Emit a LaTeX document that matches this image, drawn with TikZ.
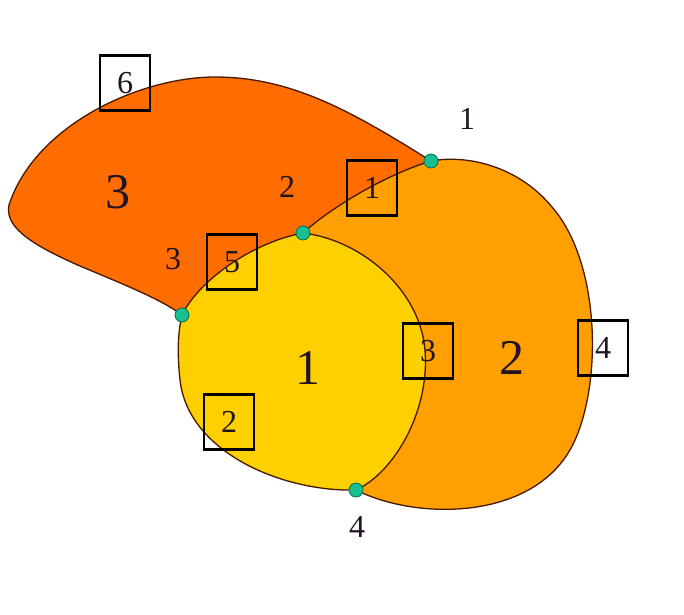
\documentclass[tikz,border=0pt]{standalone}
\usepackage{fontspec}
\setmainfont{Liberation Serif}
\begin{document}
\begin{tikzpicture}[x=1pt,y=-1pt,
  edge/.style={draw=edgecol,line width=1.3pt},
  dot/.style={circle,fill=dotfill,draw=dotdraw,line width=0.8pt,minimum size=14pt,inner sep=0pt},
  boxlab/.style={draw=black,line width=2.2pt,minimum width=50pt,minimum height=55pt,inner sep=0pt,text=labcol,font=\fontsize{32}{36}\selectfont},
  biglab/.style={text=labcol,font=\fontsize{50}{56}\selectfont},
  smalllab/.style={text=labcol,font=\fontsize{32}{36}\selectfont}]
\definecolor{redface}{RGB}{255,108,0}
\definecolor{orangeface}{RGB}{255,160,0}
\definecolor{yellowface}{RGB}{255,208,0}
\definecolor{edgecol}{RGB}{70,25,0}
\definecolor{dotfill}{RGB}{25,190,145}
\definecolor{dotdraw}{RGB}{0,110,85}
\definecolor{labcol}{RGB}{35,20,35}
\useasboundingbox (0,0) rectangle (684,614);
\fill[white] (0,0) rectangle (684,614);
% vertices and helper points
\coordinate (a) at (431,161);
\coordinate (b) at (303,233);
\coordinate (c) at (182,315);
\coordinate (d) at (356,490);
\coordinate (bd) at (425,350);
\coordinate (dc) at (180,380);
\coordinate (da1) at (575,440);
\coordinate (da2) at (552,207);
\coordinate (ac1) at (215,77);
\coordinate (ac2) at (9,205);
\coordinate (ac3) at (80,266);
% faces
\fill[redface] (a) .. controls (350,110) and (290,77) .. (ac1)
  .. controls (140,77) and (35,125) .. (ac2)
  .. controls (5,225) and (25,242) .. (ac3)
  .. controls (130,287) and (162,300) .. (c)
  .. controls (198,282) and (250,243) .. (b)
  .. controls (328,210) and (382,176) .. (a) -- cycle;
\fill[orangeface] (a) .. controls (382,176) and (328,210) .. (b)
  .. controls (362,240) and (420,290) .. (bd)
  .. controls (430,410) and (395,472) .. (d)
  .. controls (420,522) and (540,520) .. (da1)
  .. controls (602,380) and (600,262) .. (da2)
  .. controls (520,168) and (470,154) .. (a) -- cycle;
\fill[yellowface] (b) .. controls (362,240) and (420,290) .. (bd)
  .. controls (430,410) and (395,472) .. (d)
  .. controls (282,492) and (188,452) .. (dc)
  .. controls (177,352) and (178,332) .. (c)
  .. controls (198,282) and (250,243) .. (b) -- cycle;
% edges
\draw[edge] (a) .. controls (350,110) and (290,77) .. (ac1)
  .. controls (140,77) and (35,125) .. (ac2)
  .. controls (5,225) and (25,242) .. (ac3)
  .. controls (130,287) and (162,300) .. (c);
\draw[edge] (c) .. controls (198,282) and (250,243) .. (b);
\draw[edge] (b) .. controls (328,210) and (382,176) .. (a);
\draw[edge] (b) .. controls (362,240) and (420,290) .. (bd)
  .. controls (430,410) and (395,472) .. (d);
\draw[edge] (d) .. controls (282,492) and (188,452) .. (dc)
  .. controls (177,352) and (178,332) .. (c);
\draw[edge] (d) .. controls (420,522) and (540,520) .. (da1)
  .. controls (602,380) and (600,262) .. (da2)
  .. controls (520,168) and (470,154) .. (a);
% vertex dots
\node[dot] (A) at (a) {};
\node[dot] (B) at (b) {};
\node[dot] (C) at (c) {};
\node[dot] (D) at (d) {};
% boxed labels
\node[boxlab] (e6) at (125,83) {6};
\node[boxlab] (e1) at (372,188) {1};
\node[boxlab] (e5) at (232,262) {5};
\node[boxlab] (e3) at (428,351) {3};
\node[boxlab] (e4) at (603,348) {4};
\node[boxlab] (e2) at (229,422) {2};
% face labels
\node[biglab] (f3) at (118,192) {3};
\node[biglab] (f1) at (308,368) {1};
\node[biglab] (f2) at (512,358) {2};
% vertex / other labels
\node[smalllab] (v1) at (467,119) {1};
\node[smalllab] (v4) at (357,527) {4};
\node[smalllab] (l2) at (287,187) {2};
\node[smalllab] (l3) at (173,259) {3};
\end{tikzpicture}
\end{document}
